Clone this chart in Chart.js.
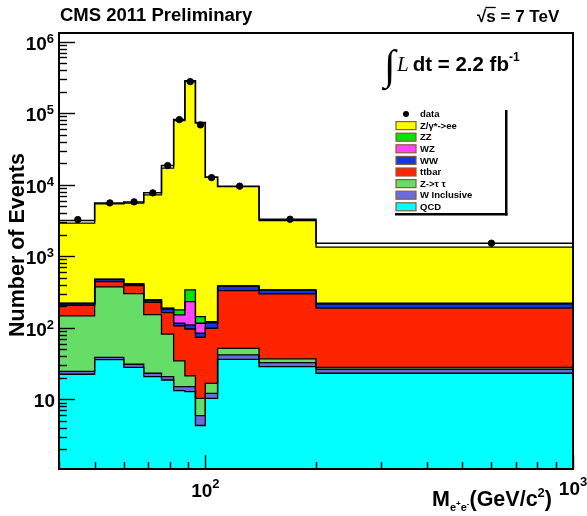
<!DOCTYPE html>
<html>
    <head>
        <meta charset="UTF-8"/>
        <script src="https://cdn.jsdelivr.net/npm/chart.js@4.4.1/dist/chart.umd.min.js"></script>
        <style>
            body { margin: 0; background: #fff; }
        </style>
    </head>
    <body>
        <canvas id="chart" width="587" height="516"></canvas>
        <script>
        // mass bins (GeV/c^2), variable width
        const binEdges = [40, 50, 60, 68, 76, 82, 88, 94, 100, 108, 140, 200, 1000];

        // observed events and the black histogram outline
        const dataEvents  = [3250, 5560, 5750, 7680, 18500, 81300, 276000, 68500, 12560, 9530, 3290, 1520];
        const dataOutline = [3170, 5560, 5750, 7740, 18500, 81300, 283000, 74000, 12700, 9530, 3290, 1520];

        // MC expectations per bin, stacked bottom to top
        const qcd        = [22.4, 35.8, 28, 20.7, 18.6, 13.2, 12.8, 4.3, 10.3, 36.2, 28.6, 23.1];
        const wInclusive = [2.1, 2.8, 2.9, 2.4, 2.1, 1.8, 2.2, 1.6, 1.8, 5.5, 3.9, 3.2];
        const zTauTau    = [121.6, 333, 269, 129, 61, 19.4, 6.2, 4.4, 4.6, 9.9, 4.1, 1.7];
        const ttbar      = [60, 69, 88, 75, 81, 71.6, 74.9, 63.3, 81.7, 278, 260, 159.5];
        const ww         = [10, 30, 18, 14, 20, 9.6, 13.3, 10.2, 19, 50, 37, 28.5];
        const wz         = [2, 3, 2, 2, 3, 35.4, 122.6, 31.8, 2, 2, 2, 2];
        const zz         = [2, 3, 2, 2, 2, 26.5, 106, 27.4, 2.2, 2, 2, 2];
        const zee        = [2680, 4900, 5100, 6955, 16813, 78620, 276660, 72257, 12578, 9016, 2812, 1120];

        const stackHists  = [qcd, wInclusive, zTauTau, ttbar, ww, wz, zz, zee];
        const stackNames  = ['QCD', 'W Inclusive', 'Z->\u03c4 \u03c4', 'ttbar', 'WW', 'WZ', 'ZZ', 'Z/\u03b3*->ee'];
        const stackColors = ['#00ffff', '#6b6be0', '#66dd66', '#ff2400', '#1236ea', '#ff44ff', '#00e600', '#ffff00'];

        // axis labels: powers of ten
        const yDecades = [1, 2, 3, 4, 5, 6];
        const xDecades = [2, 3];

        const SANS = '"Liberation Sans", Arial, sans-serif';

        function stepPoints(vals) {
            const pts = vals.map((v, i) => ({x: binEdges[i], y: v}));
            pts.push({x: binEdges[binEdges.length - 1], y: vals[vals.length - 1]});
            return pts;
        }

        const datasets = [];
        let running = qcd.map(() => 0);
        stackHists.forEach((h, k) => {
            running = running.map((r, i) => r + h[i]);
            datasets.push({
                label: stackNames[k],
                data: stepPoints(running),
                stepped: true,
                fill: k === 0 ? 'start' : '-1',
                backgroundColor: stackColors[k],
                borderColor: '#000',
                borderWidth: 1.3,
                pointRadius: 0,
                order: 3
            });
        });
        datasets.push({
            label: 'outline',
            data: stepPoints(dataOutline),
            stepped: true,
            fill: false,
            borderColor: '#000',
            borderWidth: 1.5,
            pointRadius: 0,
            order: 2
        });
        datasets.push({
            label: 'data',
            data: dataEvents.map((v, i) => ({x: (binEdges[i] + binEdges[i + 1]) / 2, y: v})),
            showLine: false,
            pointRadius: 3.2,
            pointBackgroundColor: '#000',
            pointBorderColor: '#000',
            order: 1
        });

        // draws a row of text pieces: [text, font, baseline offset]
        function textRun(ctx, x, y, parts) {
            ctx.textAlign = 'left';
            parts.forEach(p => {
                ctx.font = p[1];
                ctx.fillText(p[0], x, y + p[2]);
                x += ctx.measureText(p[0]).width;
            });
            return x;
        }

        const decorations = {
            id: 'decorations',
            afterDraw(chart) {
                const ctx = chart.ctx;
                const a = chart.chartArea;
                const xs = chart.scales.x, ys = chart.scales.y;
                const baseFont = 'bold 19px ' + SANS;
                const expFont = 'bold 13px ' + SANS;
                ctx.save();
                ctx.strokeStyle = '#000';
                ctx.fillStyle = '#000';

                // frame
                ctx.lineWidth = 2;
                ctx.strokeRect(a.left, a.top, a.right - a.left, a.bottom - a.top);

                // ticks inside the frame
                ctx.lineWidth = 1.4;
                for (let d = 0; d <= 6; d++) {
                    for (let k = 1; k <= 9; k++) {
                        const v = k * Math.pow(10, d);
                        if (v >= ys.min && v <= ys.max) {
                            const py = Math.round(ys.getPixelForValue(v)) + 0.5;
                            ctx.beginPath();
                            ctx.moveTo(a.left, py);
                            ctx.lineTo(a.left + (k === 1 ? 16 : 8), py);
                            ctx.stroke();
                        }
                        if (v >= xs.min && v <= xs.max) {
                            const px = Math.round(xs.getPixelForValue(v)) + 0.5;
                            ctx.beginPath();
                            ctx.moveTo(px, a.bottom);
                            ctx.lineTo(px, a.bottom - (k === 1 ? 14 : 7));
                            ctx.stroke();
                        }
                    }
                }

                // y tick labels
                ctx.textBaseline = 'alphabetic';
                yDecades.forEach(d => {
                    const py = ys.getPixelForValue(Math.pow(10, d));
                    ctx.textAlign = 'right';
                    if (d === 1) {
                        ctx.font = baseFont;
                        ctx.fillText('10', 55, py + 8);
                    } else {
                        ctx.font = expFont;
                        ctx.fillText(String(d), 54, py + 1);
                        const ew = ctx.measureText(String(d)).width;
                        ctx.font = baseFont;
                        ctx.fillText('10', 54 - ew, py + 8);
                    }
                });

                // x tick labels
                xDecades.forEach(d => {
                    const px = xs.getPixelForValue(Math.pow(10, d));
                    ctx.font = baseFont;
                    const bw = ctx.measureText('10').width;
                    ctx.font = expFont;
                    const ew = ctx.measureText(String(d)).width;
                    const x0 = px - (bw + ew) / 2;
                    const base = d === 3 ? 495 : 497;
                    textRun(ctx, x0, base, [['10', baseFont, 0], [String(d), expFont, -9]]);
                });

                // axis titles
                textRun(ctx, 432, 506, [
                    ['M', 'bold 21.5px ' + SANS, 0],
                    ['e', 'bold 11px ' + SANS, 5],
                    ['+', 'bold 8px ' + SANS, 0],
                    ['e', 'bold 11px ' + SANS, 5],
                    ['-', 'bold 8px ' + SANS, 0],
                    ['(GeV/c', 'bold 21.5px ' + SANS, 0],
                    ['2', 'bold 13px ' + SANS, -9],
                    [')', 'bold 21.5px ' + SANS, 0]
                ]);
                ctx.save();
                ctx.translate(24, 245);
                ctx.rotate(-Math.PI / 2);
                ctx.textAlign = 'center';
                ctx.font = 'bold 21.5px ' + SANS;
                ctx.fillText('Number of Events', 0, 0);
                ctx.restore();

                // header texts
                textRun(ctx, 60, 21, [['CMS 2011 Preliminary', 'bold 18.5px ' + SANS, 0]]);
                ctx.font = 'bold 17px ' + SANS;
                const sq = ctx.measureText('\u221A').width;
                const sw = ctx.measureText('s').width;
                textRun(ctx, 477, 22, [['\u221As = 7 TeV', 'bold 17px ' + SANS, 0]]);
                ctx.lineWidth = 1.3;
                ctx.beginPath();
                ctx.moveTo(477 + sq - 1, 7.5);
                ctx.lineTo(477 + sq + sw, 7.5);
                ctx.stroke();

                // luminosity
                textRun(ctx, 384, 79, [['\u222B', '42px "Liberation Serif", serif', 0]]);
                let lx = textRun(ctx, 397, 71, [['L', 'italic 21px "Liberation Serif", serif', 0]]);
                textRun(ctx, lx + 4, 71, [
                    ['dt = 2.2 fb', 'bold 20.5px ' + SANS, 0],
                    ['-1', 'bold 12px ' + SANS, -10]
                ]);

                // legend
                const lgTop = 114, pitch = 11.6;
                ctx.fillStyle = '#fff';
                ctx.fillRect(392, 106, 113, 107);
                ctx.fillStyle = '#000';
                ctx.fillRect(505, 110, 2.5, 105.5);
                ctx.fillRect(395, 213, 112.5, 2.5);
                ctx.beginPath();
                ctx.arc(406, lgTop, 3, 0, Math.PI * 2);
                ctx.fill();
                ctx.font = 'bold 9.5px ' + SANS;
                ctx.textBaseline = 'middle';
                ctx.textAlign = 'left';
                ctx.fillText('data', 420, lgTop + 0.5);
                for (let j = 0; j < stackNames.length; j++) {
                    const k = stackNames.length - 1 - j;
                    const cy = lgTop + (j + 1) * pitch;
                    ctx.fillStyle = stackColors[k];
                    ctx.fillRect(396, cy - 4, 20, 8);
                    ctx.strokeStyle = '#8b5a3a';
                    ctx.lineWidth = 1.2;
                    ctx.strokeRect(396, cy - 4, 20, 8);
                    ctx.fillStyle = '#000';
                    ctx.fillText(stackNames[k], 420, cy + 0.5);
                }
                ctx.restore();
            }
        };

        new Chart(document.getElementById('chart'), {
            type: 'line',
            data: { datasets: datasets },
            options: {
                responsive: false,
                animation: false,
                layout: { padding: { top: 33, right: 14, left: 0, bottom: 0 } },
                plugins: {
                    legend: { display: false },
                    tooltip: { enabled: false },
                    filler: { drawTime: 'beforeDatasetsDraw' }
                },
                scales: {
                    x: {
                        type: 'logarithmic', min: 40, max: 1000,
                        ticks: { display: false }, grid: { display: false }, border: { display: false },
                        afterFit(s) { s.height = 47; }
                    },
                    y: {
                        type: 'logarithmic', min: 1.06, max: 1.32e6,
                        ticks: { display: false }, grid: { display: false }, border: { display: false },
                        afterFit(s) { s.width = 59; }
                    }
                }
            },
            plugins: [decorations]
        });
        </script>
    </body>
</html>
